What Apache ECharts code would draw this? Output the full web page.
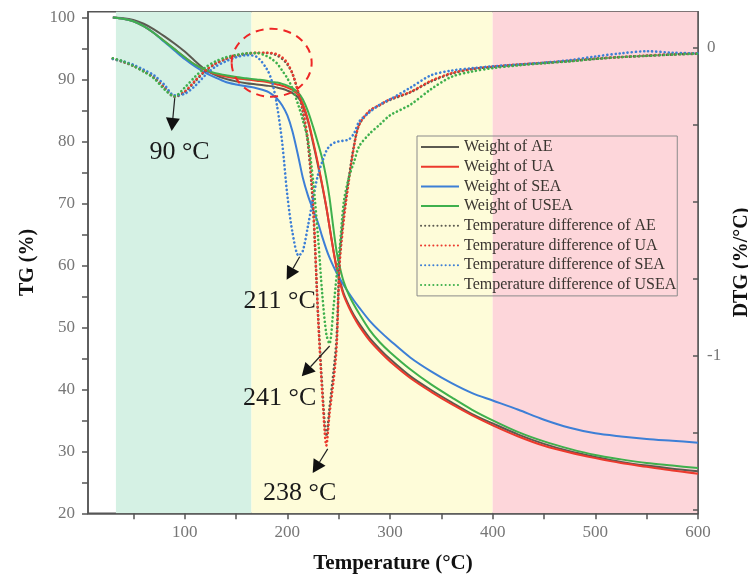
<!DOCTYPE html>
<html><head><meta charset="utf-8">
<script src="https://cdn.jsdelivr.net/npm/echarts@6/dist/echarts.min.js"></script>
<style>html,body{margin:0;padding:0;background:#fff}#c{width:748px;height:574px}</style>
</head><body><div id="c"></div>
<script>
// ---- data ----
const temps=[30,40,50,60,70,80,90,100,110,120,130,140,150,160,170,180,185,190,195,200,205,211,215,220,225,230,234,238,241,245,248,251,255,260,265,270,280,290,300,320,340,360,380,400,425,450,475,500,525,550,575,600];

const tgAE=[100,99.9,99.6,99.0,98.1,97.0,95.8,94.5,93.0,91.6,90.7,90.1,89.7,89.4,89.2,89.0,88.9,88.7,88.5,88.2,87.8,87.0,85.8,83.3,79.8,76.0,72.8,69.3,66.3,62.3,59.7,57.7,55.4,53.5,51.9,50.6,48.3,46.5,44.9,42.1,39.9,37.9,36.0,34.5,32.7,31.2,30.0,29.1,28.3,27.7,27.2,26.8];
const tgUA=[100,99.8,99.4,98.6,97.5,96.2,94.9,93.6,92.4,91.5,90.9,90.5,90.2,90.0,89.8,89.6,89.4,89.2,89.0,88.7,88.3,87.4,86.1,83.6,80.1,76.3,73.0,69.4,66.3,62.2,59.5,57.4,55.1,53.2,51.6,50.2,47.9,46.1,44.5,41.8,39.6,37.6,35.8,34.2,32.4,30.9,29.8,28.9,28.1,27.5,26.9,26.4];
const tgSEA=[100,99.8,99.4,98.6,97.5,96.1,94.7,93.3,92.1,91.1,90.3,89.6,89.2,88.9,88.6,88.1,87.6,86.9,85.8,84.2,81.6,77.3,74.2,71.3,69.0,66.8,64.6,62.6,61.3,59.8,58.8,57.9,56.8,55.5,54.3,53.2,51.1,49.4,47.9,45.1,42.9,41.0,39.4,38.2,36.7,35.1,33.8,32.9,32.4,32.0,31.7,31.4];
const tgUSEA=[100,99.8,99.4,98.6,97.5,96.2,94.9,93.6,92.4,91.6,91.0,90.7,90.4,90.2,90.0,89.8,89.6,89.5,89.3,89.0,88.6,87.8,86.8,84.9,82.4,79.6,77.2,74.0,71.0,65.8,62.2,59.8,57.3,55.2,53.6,52.2,49.6,47.6,46.0,43.2,40.8,38.7,36.7,35.0,33.1,31.6,30.4,29.4,28.7,28.1,27.7,27.3];

const dtgAE=[-0.037,-0.047,-0.06,-0.077,-0.097,-0.13,-0.16,-0.145,-0.11,-0.077,-0.053,-0.038,-0.027,-0.021,-0.018,-0.018,-0.02,-0.026,-0.037,-0.055,-0.085,-0.15,-0.21,-0.31,-0.52,-0.87,-1.1,-1.26,-1.17,-1.05,-0.94,-0.68,-0.54,-0.42,-0.315,-0.25,-0.207,-0.187,-0.17,-0.145,-0.11,-0.085,-0.07,-0.063,-0.056,-0.05,-0.044,-0.037,-0.031,-0.027,-0.023,-0.02];
const dtgUA=[-0.036,-0.046,-0.059,-0.076,-0.096,-0.128,-0.158,-0.143,-0.108,-0.075,-0.052,-0.037,-0.026,-0.02,-0.017,-0.017,-0.018,-0.022,-0.032,-0.05,-0.085,-0.15,-0.2,-0.3,-0.5,-0.88,-1.12,-1.29,-1.19,-1.08,-0.97,-0.7,-0.56,-0.43,-0.32,-0.25,-0.205,-0.186,-0.168,-0.144,-0.108,-0.083,-0.07,-0.062,-0.055,-0.05,-0.043,-0.036,-0.031,-0.026,-0.022,-0.019];
const dtgSEA=[-0.037,-0.045,-0.056,-0.072,-0.09,-0.12,-0.155,-0.15,-0.125,-0.09,-0.062,-0.045,-0.032,-0.025,-0.03,-0.07,-0.11,-0.19,-0.31,-0.48,-0.6,-0.675,-0.66,-0.58,-0.49,-0.41,-0.37,-0.335,-0.32,-0.31,-0.306,-0.304,-0.302,-0.298,-0.278,-0.24,-0.21,-0.185,-0.168,-0.13,-0.09,-0.075,-0.067,-0.061,-0.055,-0.049,-0.041,-0.029,-0.019,-0.012,-0.017,-0.019];
const dtgUSEA=[-0.035,-0.045,-0.06,-0.078,-0.1,-0.135,-0.158,-0.13,-0.095,-0.065,-0.045,-0.032,-0.024,-0.019,-0.018,-0.028,-0.038,-0.052,-0.075,-0.1,-0.133,-0.19,-0.235,-0.3,-0.43,-0.62,-0.8,-0.93,-0.96,-0.84,-0.74,-0.65,-0.5,-0.42,-0.37,-0.32,-0.28,-0.25,-0.22,-0.185,-0.135,-0.095,-0.078,-0.067,-0.058,-0.051,-0.045,-0.037,-0.031,-0.027,-0.023,-0.02];

const xLabels=[100,200,300,400,500,600];
const xTicks=[50,100,150,200,250,300,350,400,450,500,550,600];
const yLabels=[20,30,40,50,60,70,80,90,100];
const yTicks=[20,25,30,35,40,45,50,55,60,65,70,75,80,85,90,95,100];
const y2Labels=[0,-1];
const y2Ticks=[0,-0.25,-0.5,-0.75,-1,-1.25,-1.5];
const bandEdges=[33,165,400,600];
const bandColors=['#d5f1e4','#fefcd9','#fdd6da'];

// annotations in data units (temperature, TG %)
const notes=[
  {text:'90 °C', from:[90.3,87.0], to:[87.3,81.7], at:[95,78.3]},
  {text:'211 °C', from:[212,61.4], to:[199.3,57.7], at:[192.5,54.3]},
  {text:'241 °C', from:[241.2,47.0], to:[214,42.1], at:[192.5,38.5]},
  {text:'238 °C', from:[239.3,30.4], to:[224.7,26.5], at:[212,23.3]}
];
const circleCenter=[184.7,92.7];

// ---- chart ----
const FONT='"Liberation Serif","Times New Roman",serif';
const C={AE:'#5b5a50',UA:'#ec3a2d',SEA:'#3d7fd6',USEA:'#3fb04d'};
const pairs=v=>temps.map((t,i)=>[t,v[i]]);
const chart=echarts.init(document.getElementById('c'));

function solid(name,vals,color){
  return {name,type:'line',data:pairs(vals),yAxisIndex:0,symbol:'none',smooth:0.3,
    lineStyle:{color,width:2},itemStyle:{color},z:3};
}
function dotted(name,vals,color){
  return {name,type:'line',data:pairs(vals),yAxisIndex:1,symbol:'none',smooth:0.3,
    lineStyle:{color,width:2.6,type:[0.1,4],cap:'round'},itemStyle:{color},z:4};
}
const bandData=[];
for(let i=0;i<bandColors.length;i++){
  bandData.push([{xAxis:bandEdges[i],itemStyle:{color:bandColors[i]}},{xAxis:bandEdges[i+1]}]);
}
const s0=solid('Weight of AE',tgAE,C.AE);
s0.markArea={silent:true,data:bandData,z:0};

const axisLineStyle={color:'#555',width:1.5};
chart.setOption({
  animation:false,
  grid:{left:88,right:50,top:11.7,bottom:60.7,containLabel:false,outerBoundsMode:'none',show:true,borderColor:'#555',borderWidth:1.5,backgroundColor:'transparent'},
  legend:{orient:'vertical',left:417,top:136,itemWidth:38,itemHeight:10,itemGap:3.7,
    itemStyle:{color:'transparent',borderColor:'transparent',borderWidth:0,opacity:0},
    padding:[3,1,3,3],borderColor:'#8a8a8a',borderWidth:1,
    textStyle:{fontFamily:FONT,fontSize:16,lineHeight:16,color:'#3a3530'},
    data:['Weight of AE','Weight of UA','Weight of SEA','Weight of USEA','Temperature difference of AE','Temperature difference of UA','Temperature difference of SEA','Temperature difference of USEA']},
  xAxis:{type:'value',min:5.8,max:600,
    name:'Temperature (°C)',nameLocation:'middle',nameGap:40,
    nameTextStyle:{fontFamily:FONT,fontSize:21,fontWeight:'bold',color:'#111'},
    axisLine:{onZero:false,lineStyle:axisLineStyle},
    axisTick:{show:true,length:6,lineStyle:{color:'#555',width:1.5},customValues:xTicks},
    axisLabel:{customValues:xLabels,fontFamily:FONT,fontSize:17,color:'#777',margin:11},
    splitLine:{show:false}},
  yAxis:[
    {type:'value',min:20,max:100.94,position:'left',
     name:'TG (%)',nameLocation:'middle',nameGap:50,nameRotate:90,
     nameTextStyle:{fontFamily:FONT,fontSize:20,fontWeight:'bold',color:'#111'},
     axisLine:{show:true,onZero:false,lineStyle:axisLineStyle},
     axisTick:{show:true,length:6,lineStyle:{color:'#555',width:1.5},customValues:yTicks},
     axisLabel:{customValues:yLabels,fontFamily:FONT,fontSize:17,color:'#777',margin:13},
     splitLine:{show:false}},
    {type:'value',min:-1.51,max:0.116,position:'right',
     name:'DTG (%/°C)',nameLocation:'middle',nameGap:33,nameRotate:90,
     nameTextStyle:{fontFamily:FONT,fontSize:20,fontWeight:'bold',color:'#111'},
     axisLine:{show:true,onZero:false,lineStyle:axisLineStyle},
     axisTick:{show:true,inside:true,length:5,lineStyle:{color:'#555',width:1.5},customValues:y2Ticks},
     axisLabel:{customValues:y2Labels,fontFamily:FONT,fontSize:17,color:'#777',margin:9},
     splitLine:{show:false}}
  ],
  series:[
    s0,
    solid('Weight of UA',tgUA,C.UA),
    solid('Weight of SEA',tgSEA,C.SEA),
    solid('Weight of USEA',tgUSEA,C.USEA),
    dotted('Temperature difference of AE',dtgAE,C.AE),
    dotted('Temperature difference of UA',dtgUA,C.UA),
    dotted('Temperature difference of SEA',dtgSEA,C.SEA),
    dotted('Temperature difference of USEA',dtgUSEA,C.USEA)
  ]
});

// annotations
const px=p=>chart.convertToPixel({xAxisIndex:0,yAxisIndex:0},p);
const g=[];
notes.forEach(n=>{
  const a=px(n.from), b=px(n.to), t=px(n.at);
  const dx=b[0]-a[0], dy=b[1]-a[1], L=Math.hypot(dx,dy), ux=dx/L, uy=dy/L;
  const hl=13, hw=7;
  const bx=b[0]-ux*hl, by=b[1]-uy*hl;
  g.push({type:'line',shape:{x1:a[0],y1:a[1],x2:bx,y2:by},style:{stroke:'#222',lineWidth:1.2},z:10});
  g.push({type:'polygon',shape:{points:[[b[0],b[1]],[bx-uy*hw,by+ux*hw],[bx+uy*hw,by-ux*hw]]},style:{fill:'#111'},z:10});
  g.push({type:'text',x:t[0],y:t[1],style:{text:n.text,font:'26px '+FONT,fill:'#1a1a1a',align:'center',verticalAlign:'middle'},z:10});
});
const cc=px(circleCenter);
g.push({type:'ellipse',shape:{cx:cc[0],cy:cc[1],rx:40,ry:34},style:{fill:'none',stroke:'#ee2626',lineWidth:2,lineDash:[8,6]},z:10});
chart.setOption({graphic:g});
</script></body></html>
